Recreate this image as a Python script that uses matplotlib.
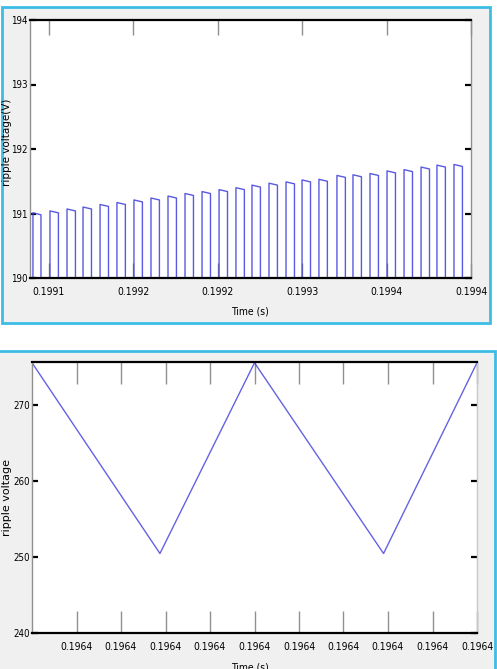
import matplotlib
matplotlib.use('Agg')
import matplotlib.pyplot as plt
from matplotlib.patches import Rectangle

plt.rcParams['font.family'] = ['Liberation Sans Narrow', 'DejaVu Sans']

# ---- top chart: pulse train ----
rise_t = [0.1991086, 0.1991207, 0.1991328, 0.1991442, 0.1991563, 0.1991683,
          0.1991804, 0.1991925, 0.1992046, 0.1992167, 0.1992288, 0.1992409,
          0.1992529, 0.1992643, 0.1992764, 0.1992885, 0.1992999, 0.1993119,
          0.1993247, 0.1993361, 0.1993482, 0.1993603, 0.1993724, 0.1993845,
          0.1993958, 0.1994079]
fall_t = [0.1991143, 0.1991267, 0.1991388, 0.1991502, 0.1991623, 0.1991743,
          0.1991864, 0.1991985, 0.1992106, 0.1992227, 0.1992348, 0.1992469,
          0.1992589, 0.1992703, 0.1992824, 0.1992945, 0.1993059, 0.1993179,
          0.1993307, 0.1993421, 0.1993542, 0.1993663, 0.1993784, 0.1993905,
          0.1994018, 0.1994139]
top_v = [191.01, 191.04, 191.07, 191.10, 191.14, 191.17, 191.21, 191.24,
         191.27, 191.31, 191.34, 191.37, 191.40, 191.44, 191.47, 191.49,
         191.52, 191.53, 191.59, 191.60, 191.62, 191.66, 191.68, 191.72,
         191.75, 191.76]
low_v = 189.9
top_xticks = [0.19912, 0.19918, 0.19924, 0.19930, 0.19936, 0.19942]
top_xlabels = ['0.1991', '0.1992', '0.1992', '0.1993', '0.1994', '0.1994']
top_yticks = [190, 191, 192, 193, 194]

# ---- bottom chart: triangle ripple ----
tri_t = [0.19640000, 0.19640115, 0.19640200, 0.19640316, 0.19640400]
tri_v = [275.6, 250.5, 275.6, 250.5, 275.6]
bot_xticks = [0.1964004, 0.1964008, 0.1964012, 0.1964016, 0.1964020,
              0.1964024, 0.1964028, 0.1964032, 0.1964036, 0.1964040]
bot_xlabels = ['0.1964'] * 10
bot_yticks = [240, 250, 260, 270]

W, H = 497, 669
fig = plt.figure(figsize=(W / 100, H / 100), dpi=100)
fig.patch.set_facecolor('white')

def box(x0, y0, x1, y1, **kw):
    # pixel box (top-left origin) -> figure rectangle, drawn behind the axes
    r = Rectangle((x0 / W, 1 - y1 / H), (x1 - x0) / W, (y1 - y0) / H,
                  transform=fig.transFigure, zorder=-5, **kw)
    fig.patches.append(r)

cyan = '#3dbde6'
box(2, 7, 490, 323, facecolor='#f0f0f0', edgecolor=cyan, linewidth=2)
box(-5, 351, 495, 680, facecolor='#f0f0f0', edgecolor=cyan, linewidth=2)

line_c = '#3c3cdc'

def style(ax, tick_len, xpad):
    ax.set_facecolor('white')
    for s in ['top', 'bottom']:
        ax.spines[s].set_color('black')
        ax.spines[s].set_linewidth(1.6)
    for s in ['left', 'right']:
        ax.spines[s].set_color('#909090')
        ax.spines[s].set_linewidth(1.0)
    ax.tick_params(axis='x', direction='in', length=tick_len, width=1,
                   color='#909090', top=True, bottom=True, labelsize=7.5,
                   pad=xpad)
    ax.tick_params(axis='y', direction='in', length=4, width=1.6,
                   color='black', left=True, right=True, labelsize=7,
                   pad=1.5)
    for lab in ax.get_xticklabels() + ax.get_yticklabels():
        lab.set_fontstretch('condensed')

# top axes
ax1 = fig.add_axes([30 / W, 1 - 278 / H, 441 / W, 258 / H])
xs, ys = [], []
for r, f, v in zip(rise_t, fall_t, top_v):
    xs += [r, r, f, f]
    ys += [low_v, v, v - 0.03, low_v]
ax1.plot(xs, ys, color=line_c, linewidth=1.0, alpha=0.85)
ax1.set_xlim(0.1991065, 0.19942)
ax1.set_ylim(190, 194)
ax1.set_xticks(top_xticks)
ax1.set_xticklabels(top_xlabels)
ax1.set_yticks(top_yticks)
ax1.set_yticklabels([str(v) for v in top_yticks])
style(ax1, 11, 6.5)

fig.text(7 / W, 1 - 142 / H, 'ripple voltage(V)', rotation=90,
         ha='center', va='center', fontsize=7.5)
fig.text(250 / W, 1 - 312 / H, 'Time (s)', ha='center', va='center',
         fontsize=7.5, fontstretch='condensed')

# bottom axes
ax2 = fig.add_axes([32 / W, 1 - 633.3 / H, 445 / W, 271.3 / H])
ax2.plot(tri_t, tri_v, color=line_c, linewidth=1.0, alpha=0.8)
ax2.set_xlim(0.1964000, 0.1964040)
ax2.set_ylim(240, 275.7)
ax2.set_xticks(bot_xticks)
ax2.set_xticklabels(bot_xlabels)
ax2.set_yticks(bot_yticks)
ax2.set_yticklabels([str(v) for v in bot_yticks])
style(ax2, 16, 6)
ax2.spines['right'].set_color('#c8c8c8')

fig.text(7 / W, 1 - 497 / H, 'ripple voltage', rotation=90,
         ha='center', va='center', fontsize=8)
fig.text(250 / W, 1 - 663 / H, 'Time (s)', ha='center', va='top',
         fontsize=7.5, fontstretch='condensed')

fig.savefig('out.png', dpi=100)
